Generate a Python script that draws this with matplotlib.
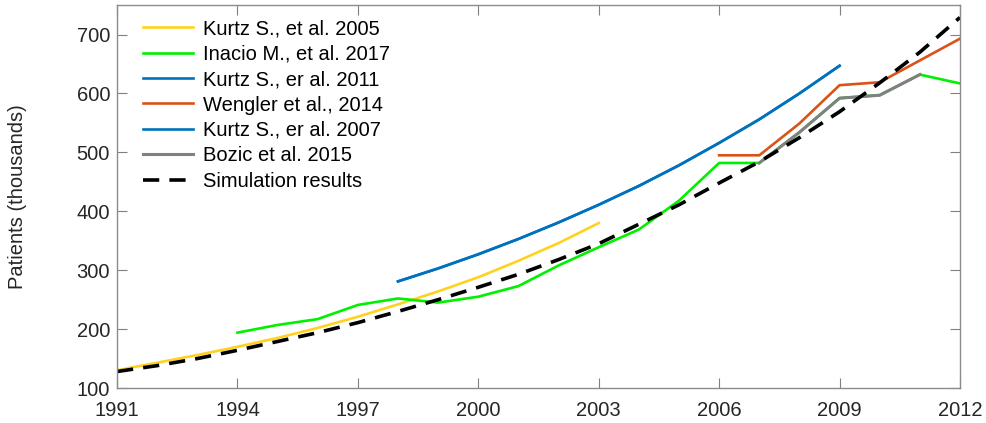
import matplotlib
matplotlib.use("Agg")
import matplotlib.pyplot as plt

plt.rcParams['font.family'] = ['Liberation Sans', 'DejaVu Sans']

# series (thousands of patients)
kurtz05_years = list(range(1991, 2004))
kurtz05 = [130, 143, 156, 170, 185, 202, 221, 242, 264, 288, 316, 346, 380]

inacio_years = list(range(1994, 2013))
inacio = [194, 207, 217, 241, 252, 245, 255, 273, 308, 339, 369, 418, 482, 482,
          534, 592, 597, 632, 617]

kurtz11_years = list(range(1998, 2010))
kurtz11 = [281, 303, 327, 353, 381, 411, 443, 478, 516, 556, 600, 647]

wengler_years = list(range(2006, 2013))
wengler = [495, 495, 549, 614, 619, 656, 693]

kurtz07_years = kurtz11_years
kurtz07 = kurtz11

bozic_years = list(range(2007, 2012))
bozic = [482, 534, 592, 597, 632]

sim_years = list(range(1991, 2013))
sim = [128, 138, 150, 164, 179, 194, 211, 230, 250, 271, 293, 318, 345, 378,
       411, 448, 484, 525, 569, 618, 670, 729]

xticks = [1991, 1994, 1997, 2000, 2003, 2006, 2009, 2012]
yticks = [100, 200, 300, 400, 500, 600, 700]

fig = plt.figure(figsize=(9.86, 4.23), dpi=100)
ax = fig.add_axes([0.1187, 0.0827, 0.8549, 0.9053])

lw = 1.9
ax.plot(kurtz05_years, kurtz05, color='#FFD21F', lw=lw, label='Kurtz S., et al. 2005')
ax.plot(inacio_years, inacio, color='#00F000', lw=lw, label='Inacio M., et al. 2017')
ax.plot(kurtz11_years, kurtz11, color='#0072BD', lw=lw, label='Kurtz S., er al. 2011')
ax.plot(wengler_years, wengler, color='#D95319', lw=lw, label='Wengler et al., 2014')
ax.plot(kurtz07_years, kurtz07, color='#0072BD', lw=lw, label='Kurtz S., er al. 2007')
ax.plot(bozic_years, bozic, color='#808080', lw=2.2, label='Bozic et al. 2015')
ax.plot(sim_years, sim, color='black', lw=2.6, dashes=(4.5, 2.8), label='Simulation results')

ax.set_xlim(1991, 2012)
ax.set_ylim(100, 750)
ax.set_xticks(xticks)
ax.set_yticks(yticks)
ax.tick_params(direction='in', length=7, width=0.8, top=True, right=True,
               labelsize=14.5, colors='#808080', labelcolor='#262626')
ax.tick_params(axis='x', pad=9)
ax.tick_params(axis='y', pad=5)
for s in ax.spines.values():
    s.set_color('#8c8c8c')
    s.set_linewidth(1.0)

ax.set_ylabel('Patients (thousands)', fontsize=14.5, color='#262626', labelpad=36)

ax.legend(loc='upper left', frameon=False, fontsize=14.5, handlelength=2.5,
          labelspacing=0.32, borderaxespad=0.3, handletextpad=0.5,
          bbox_to_anchor=(0.014, 1.0))

fig.savefig('out.png', dpi=100)
